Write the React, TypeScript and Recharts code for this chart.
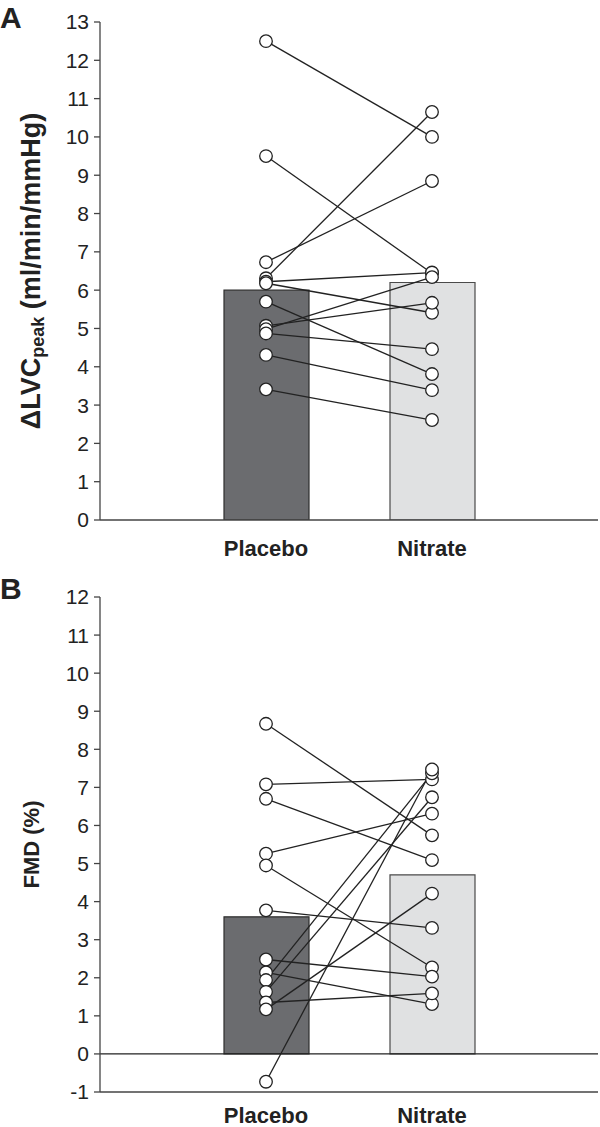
import React from 'react';
import { ComposedChart, Bar, Line, XAxis, YAxis, ReferenceLine, Cell } from 'recharts';

const groups = ['Placebo', 'Nitrate'];
const barColors = ['#6b6c6f', '#e0e1e2'];
const barStrokes = ['#2e2e2e', '#4a4a4a'];

const lvcMeans = [6.0, 6.2];
const lvcPlacebo = [12.5, 9.5, 6.73, 6.31, 6.22, 6.18, 5.7, 5.07, 4.98, 4.87, 4.31, 3.41];
const lvcNitrate = [10.0, 6.44, 8.85, 10.65, 6.46, 5.41, 3.81, 5.67, 6.34, 4.46, 3.39, 2.61];
const lvcTicks = [0, 1, 2, 3, 4, 5, 6, 7, 8, 9, 10, 11, 12, 13];

const fmdMeans = [3.6, 4.7];
const fmdPlacebo = [8.67, 7.08, 6.7, 5.26, 4.95, 3.77, 2.48, 2.14, 1.94, 1.63, 1.35, 1.17, -0.73];
const fmdNitrate = [5.74, 7.21, 5.09, 6.31, 2.27, 3.31, 2.03, 1.31, 7.37, 6.74, 1.59, 4.21, 7.47];
const fmdTicks = [-1, 0, 1, 2, 3, 4, 5, 6, 7, 8, 9, 10, 11, 12];

const FONT = '"Liberation Sans", Arial, sans-serif';
const INK = '#222';

function buildRows(means: number[], pre: number[], post: number[]) {
  return groups.map((g, gi) => {
    const row: Record<string, any> = { name: g, mean: means[gi] };
    const src = gi === 0 ? pre : post;
    src.forEach((v, i) => {
      row['s' + i] = v;
    });
    return row;
  });
}

const dotStyle = { r: 6.3, fill: '#fff', stroke: INK, strokeWidth: 1.3 };

function YLabelA(props: any) {
  const vb = props.viewBox || {};
  const cy = vb.y + vb.height / 2;
  const cx = 31;
  return (
    <text
      x={0}
      y={0}
      transform={`translate(${cx},${cy}) rotate(-90)`}
      textAnchor="middle"
      dominantBaseline="central"
      fontFamily={FONT}
      fontWeight="bold"
      fontSize={27}
      fill={INK}
    >
      <tspan>ΔLVC</tspan>
      <tspan fontSize={18} dy={7}>peak</tspan>
      <tspan dy={-7}> (ml/min/mmHg)</tspan>
    </text>
  );
}

function YLabelB(props: any) {
  const vb = props.viewBox || {};
  const cy = vb.y + vb.height / 2;
  const cx = 31;
  return (
    <text
      x={0}
      y={0}
      transform={`translate(${cx},${cy}) rotate(-90)`}
      textAnchor="middle"
      dominantBaseline="central"
      fontFamily={FONT}
      fontWeight="bold"
      fontSize={22}
      fill={INK}
    >
      FMD (%)
    </text>
  );
}

function Panel(props: {
  means: number[];
  pre: number[];
  post: number[];
  ticks: number[];
  height: number;
  top: number;
  xHeight: number;
  tickMarginX: number;
  label: (p: any) => any;
  showZero: boolean;
}) {
  const rows = buildRows(props.means, props.pre, props.post);
  const domain: [number, number] = [props.ticks[0], props.ticks[props.ticks.length - 1]];
  return (
    <ComposedChart
      width={600}
      height={props.height}
      data={rows}
      margin={{ top: props.top, right: 2, bottom: 0, left: 0 }}
    >
      <XAxis
        dataKey="name"
        type="category"
        padding={{ left: 83, right: 83 }}
        height={props.xHeight}
        tickLine={false}
        tickSize={0}
        tickMargin={props.tickMarginX}
        axisLine={{ stroke: '#444', strokeWidth: 1.3 }}
        tick={{ fontFamily: FONT, fontWeight: 'bold', fontSize: 22, fill: INK }}
      />
      <YAxis
        type="number"
        domain={domain}
        ticks={props.ticks}
        interval={0}
        width={100}
        tickSize={6}
        tickMargin={5}
        axisLine={{ stroke: '#444', strokeWidth: 1.3 }}
        tickLine={{ stroke: '#444', strokeWidth: 1.3 }}
        tick={{ fontFamily: FONT, fontSize: 21, fill: INK }}
        allowDataOverflow
        label={{ content: props.label }}
      />
      {props.showZero && <ReferenceLine y={0} stroke={INK} strokeWidth={1.3} />}
      <Bar dataKey="mean" barSize={85} isAnimationActive={false}>
        {rows.map((r, i) => (
          <Cell key={r.name} fill={barColors[i]} stroke={barStrokes[i]} strokeWidth={1.2} />
        ))}
      </Bar>
      {props.pre.map((_, i) => (
        <Line
          key={'l' + i}
          dataKey={'s' + i}
          type="linear"
          stroke={INK}
          strokeWidth={1.3}
          dot={false}
          activeDot={false}
          isAnimationActive={false}
        />
      ))}
      {props.pre.map((_, i) => (
        <Line
          key={'d' + i}
          dataKey={'s' + i}
          type="linear"
          stroke="none"
          dot={dotStyle}
          activeDot={false}
          isAnimationActive={false}
        />
      ))}
    </ComposedChart>
  );
}

export default function App() {
  return (
    <div
      style={{
        position: 'absolute',
        left: 0,
        top: 0,
        width: 600,
        height: 1127,
        background: '#fff',
        fontFamily: FONT,
        overflow: 'hidden',
      }}
    >
      <div style={{ position: 'absolute', left: 0, top: 0 }}>
        <Panel
          means={lvcMeans}
          pre={lvcPlacebo}
          post={lvcNitrate}
          ticks={lvcTicks}
          height={570}
          top={22}
          xHeight={50}
          tickMarginX={20}
          label={YLabelA}
          showZero={false}
        />
      </div>
      <div style={{ position: 'absolute', left: 0, top: 570 }}>
        <Panel
          means={fmdMeans}
          pre={fmdPlacebo}
          post={fmdNitrate}
          ticks={fmdTicks}
          height={557}
          top={27}
          xHeight={35}
          tickMarginX={15}
          label={YLabelB}
          showZero={true}
        />
      </div>
      <div
        style={{
          position: 'absolute',
          left: 0,
          top: 0,
          fontFamily: FONT,
          fontWeight: 'bold',
          fontSize: 30,
          lineHeight: '36px',
          color: INK,
        }}
      >
        A
      </div>
      <div
        style={{
          position: 'absolute',
          left: 0,
          top: 571,
          fontFamily: FONT,
          fontWeight: 'bold',
          fontSize: 30,
          lineHeight: '36px',
          color: INK,
        }}
      >
        B
      </div>
    </div>
  );
}
